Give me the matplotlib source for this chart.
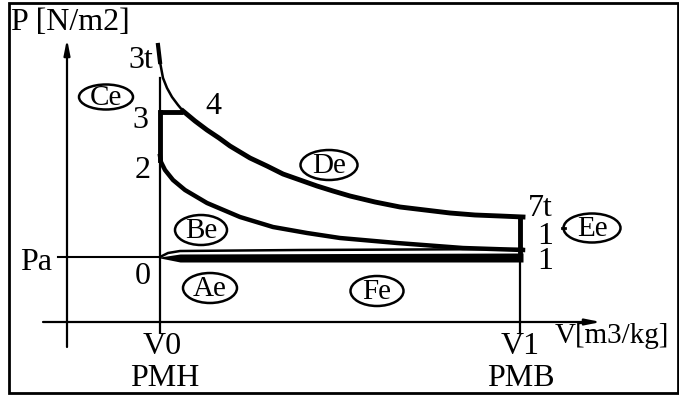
import matplotlib
matplotlib.use("Agg")
import matplotlib.pyplot as plt
from matplotlib.patches import Ellipse, Rectangle

# ---- data (diagram units: V to the right, P upward) ----
V0, V1, Pa = 93, 453, 65
P2, P3 = 162, 210

# 3t -> 4 (thin isentropic tip)
tip_V = [91, 93, 96, 100, 105, 111, 116]
tip_P = [277, 260, 244, 234, 225, 217, 211]

# 4 -> 7t expansion
exp_V = [116, 128, 140, 152, 163, 173, 183, 200, 216, 233, 250, 266, 283, 308, 333, 358, 383, 408, 433, 456]
exp_P = [211, 201, 192, 184, 176, 170, 164, 156, 148, 142, 136, 131, 126, 120, 115, 112, 109, 107, 106, 105]

# 1 -> 2 compression
cmp_V = [456, 396, 330, 273, 240, 206, 173, 140, 118, 106, 98, 94, 93]
cmp_P = [72, 74, 79, 84, 89, 95, 105, 119, 132, 142, 152, 160, 166]

# intake / exhaust lens near Pa
lens_up_V = [93, 101, 113, 233, 456]
lens_up_P = [65, 69, 71, 72, 73]
band_V = [93, 113, 456]
band_top = [65, 68, 69]
band_bot = [64, 60, 60]

P7t = 104

point_labels = ["3", "2", "4", "0", "7t", "1\n1"]
point_V = [73, 76, 146, 76, 473, 478]
point_P = [201, 152, 216, 45, 114, 73]

zone_labels = ["Ce", "De", "Be", "Ae", "Fe", "Ee"]
zone_V = [39, 262, 134, 143, 310, 525]
zone_P = [225, 157, 92, 34, 31, 94]
zone_w = [54, 57, 52, 54, 53, 57]
zone_h = [25, 30, 30, 30, 30, 29]

fig = plt.figure(figsize=(6.79, 3.96), dpi=100)
ax = fig.add_axes([0, 0, 1, 1])
ax.set_xlim(-67, 612)
ax.set_ylim(-74, 322)
ax.axis("off")

serif = "Liberation Serif"
fs = 23

# border
fig.patches.append(Rectangle((9 / 679, 3 / 396), 669 / 679, 390 / 396,
                             transform=fig.transFigure, fill=False,
                             lw=2.0, ec="black"))

# axes with arrows
ax.annotate("", xy=(0, 283), xytext=(0, -25),
            arrowprops=dict(arrowstyle="-|>,head_length=0.9,head_width=0.18",
                            lw=1.6, color="black", shrinkA=0, shrinkB=0))
ax.annotate("", xy=(534, 0), xytext=(-24, 0),
            arrowprops=dict(arrowstyle="-|>,head_length=0.9,head_width=0.18",
                            lw=1.6, color="black", shrinkA=0, shrinkB=0))

# Pa line and tick
ax.plot([-9, V0], [Pa, Pa], color="black", lw=1.5)

# V0 and V1 verticals
ax.plot([V0, V0], [-10, 244], color="black", lw=1.6)
ax.plot([V0, V0], [P2, P3], color="black", lw=3.5)
ax.plot([V1, V1], [-10, P7t], color="black", lw=1.6)
ax.plot([V1, V1], [Pa, P7t], color="black", lw=3.5, solid_capstyle="butt")

# 3 -> 4 constant pressure
ax.plot([V0, tip_V[-1]], [P3, P3], color="black", lw=3.5, solid_capstyle="butt")

# curves
ax.plot(tip_V, tip_P, color="black", lw=1.8)
ax.plot([tip_V[0], tip_V[1]], [tip_P[0], tip_P[1]], color="black", lw=3)
ax.plot(exp_V, exp_P, color="black", lw=3.5, solid_joinstyle="round")
ax.plot(cmp_V, cmp_P, color="black", lw=3.2, solid_joinstyle="round")

# lens near Pa
ax.plot(lens_up_V, lens_up_P, color="black", lw=1.8)
ax.fill_between(band_V, band_bot, band_top, color="black", lw=0)

# point labels
ax.text(86, 261, "3t", fontsize=fs, family=serif, ha="right", va="center")
for t, v, p in zip(point_labels, point_V, point_P):
    ax.text(v, p, t, fontsize=fs, family=serif, ha="center", va="center",
            linespacing=0.8)

ax.text(-56, 300, "P [N/m2]", fontsize=fs, family=serif, ha="left", va="center")
ax.text(-31, 60, "Pa", fontsize=fs, family=serif, ha="center", va="center")
ax.text(95, -25, "V0", fontsize=fs, family=serif, ha="center", va="center")
ax.text(98, -57, "PMH", fontsize=fs, family=serif, ha="center", va="center")
ax.text(453, -25, "V1", fontsize=fs, family=serif, ha="center", va="center")
ax.text(454, -57, "PMB", fontsize=fs, family=serif, ha="center", va="center")
ax.text(488, -14, "V[m3/kg]", fontsize=21, family=serif, ha="left", va="center")

# zone ellipses
for t, v, p, w, h in zip(zone_labels, zone_V, zone_P, zone_w, zone_h):
    ax.add_patch(Ellipse((v, p), w, h, fill=False, lw=1.8, ec="black"))
    ax.text(v, p - 1, t, fontsize=fs - 2, family=serif, ha="center", va="center")
ax.plot([zone_V[5] - zone_w[5] / 2 - 2, zone_V[5] - zone_w[5] / 2 + 1],
        [zone_P[5], zone_P[5]], color="black", lw=2)

fig.savefig("out.png", dpi=100)
